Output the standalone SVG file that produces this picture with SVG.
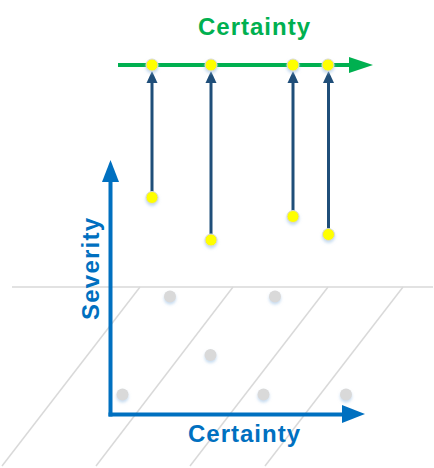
<svg xmlns="http://www.w3.org/2000/svg" width="434" height="468" viewBox="0 0 434 468">
<style>
.grid{stroke:#D9D9D9;stroke-width:1.5;fill:none}
.gdot{fill:#D9D9D9;filter:url(#sh)}
.ydot{fill:#FFFF00;stroke:#D9D9D9;stroke-width:1;filter:url(#sh)}
.conn{stroke:#1F4E79;stroke-width:3;fill:none}
.axis{stroke:#0070C0;stroke-width:4;fill:none}
.lbl{font-family:"Liberation Sans",Arial,sans-serif;font-weight:bold;font-size:24px}
</style>
<defs>
<filter id="sh" x="-50%" y="-50%" width="200%" height="220%">
<feDropShadow dx="0" dy="2" stdDeviation="1.5" flood-color="#9DC3E6" flood-opacity="0.6"/>
</filter>
</defs>
<rect width="434" height="468" fill="#FFFFFF"/>
<g id="grid">
<line class="grid" x1="12" y1="287" x2="433" y2="287"/>
<line class="grid" x1="140" y1="287" x2="2" y2="466"/>
<line class="grid" x1="233" y1="287" x2="96" y2="466"/>
<line class="grid" x1="328" y1="287" x2="190" y2="466"/>
<line class="grid" x1="403" y1="287" x2="265" y2="466"/>
</g>
<g id="gray-dots">
<circle class="gdot" cx="170" cy="296.5" r="6"/>
<circle class="gdot" cx="275" cy="296.5" r="6"/>
<circle class="gdot" cx="210.5" cy="355" r="6"/>
<circle class="gdot" cx="122.5" cy="394.5" r="6"/>
<circle class="gdot" cx="263.5" cy="394.5" r="6"/>
<circle class="gdot" cx="346" cy="394.5" r="6"/>
</g>
<g id="severity-axis">
<line class="axis" x1="110.5" y1="416.5" x2="110.5" y2="178"/>
<polygon points="110.5,160 102,182 119,182" fill="#0070C0"/>
<text class="lbl" fill="#0070C0" transform="translate(99,269) rotate(-90)" text-anchor="middle" textLength="102">Severity</text>
</g>
<g id="certainty-axis">
<line class="axis" x1="108.5" y1="414.5" x2="346" y2="414.5"/>
<polygon points="365,414 342,405 342,423" fill="#0070C0"/>
<text class="lbl" fill="#0070C0" x="244" y="442" text-anchor="middle" textLength="112">Certainty</text>
</g>
<g id="certainty-line">
<line x1="118" y1="65" x2="352" y2="65" stroke="#00B050" stroke-width="4"/>
<polygon points="373,65 349,57 349,73" fill="#00B050"/>
<text class="lbl" fill="#00B050" x="254" y="35" text-anchor="middle" textLength="112">Certainty</text>
</g>
<g id="connectors">
<line class="conn" x1="152" y1="197" x2="152" y2="80"/>
<polygon points="152,71 146.5,83 157.5,83" fill="#1F4E79"/>
<line class="conn" x1="211" y1="240" x2="211" y2="80"/>
<polygon points="211,71 205.5,83 216.5,83" fill="#1F4E79"/>
<line class="conn" x1="293" y1="216" x2="293" y2="80"/>
<polygon points="293,71 287.5,83 298.5,83" fill="#1F4E79"/>
<line class="conn" x1="328.5" y1="234" x2="328.5" y2="80"/>
<polygon points="328.5,71 323,83 334,83" fill="#1F4E79"/>
</g>
<g id="top-dots">
<circle class="ydot" cx="152" cy="65" r="6"/>
<circle class="ydot" cx="211" cy="65" r="6"/>
<circle class="ydot" cx="293" cy="65" r="6"/>
<circle class="ydot" cx="328" cy="65" r="6"/>
</g>
<g id="bottom-dots">
<circle class="ydot" cx="152" cy="197.5" r="6"/>
<circle class="ydot" cx="211" cy="240" r="6"/>
<circle class="ydot" cx="293" cy="216.5" r="6"/>
<circle class="ydot" cx="328.5" cy="234.5" r="6"/>
</g>
</svg>
